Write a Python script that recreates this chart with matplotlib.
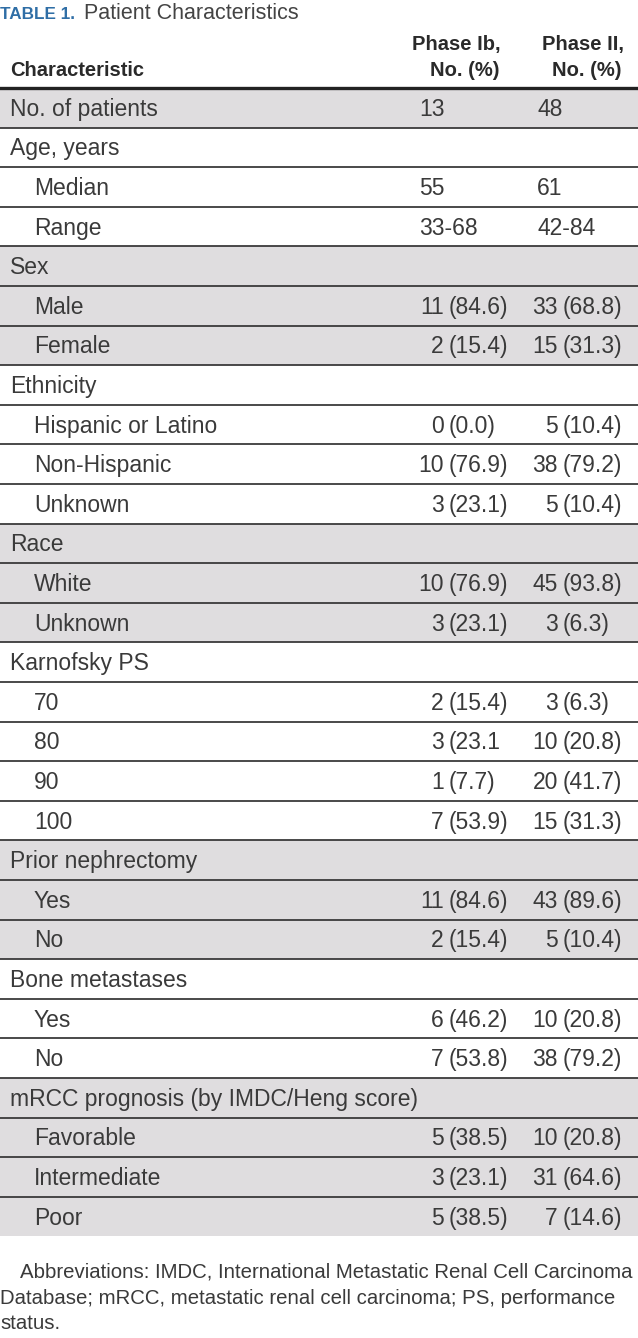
import matplotlib.pyplot as plt
from matplotlib.patches import Rectangle

# table content
row_labels = ['No. of patients', 'Age, years', 'Median', 'Range', 'Sex', 'Male', 'Female',
              'Ethnicity', 'Hispanic or Latino', 'Non-Hispanic', 'Unknown', 'Race', 'White',
              'Unknown', 'Karnofsky PS', '70', '80', '90', '100', 'Prior nephrectomy', 'Yes',
              'No', 'Bone metastases', 'Yes', 'No', 'mRCC prognosis (by IMDC/Heng score)',
              'Favorable', 'Intermediate', 'Poor']
row_indent = [0, 0, 1, 1, 0, 1, 1, 0, 1, 1, 1, 0, 1, 1, 0, 1, 1, 1, 1, 0, 1, 1, 0, 1, 1, 0, 1, 1, 1]
phase_ib = ['13', '', '55', '33-68', '', '11 (84.6)', '2 (15.4)', '', '0 (0.0)', '10 (76.9)',
            '3 (23.1)', '', '10 (76.9)', '3 (23.1)', '', '2 (15.4)', '3 (23.1', '1 (7.7)',
            '7 (53.9)', '', '11 (84.6)', '2 (15.4)', '', '6 (46.2)', '7 (53.8)', '',
            '5 (38.5)', '3 (23.1)', '5 (38.5)']
phase_ii = ['48', '', '61', '42-84', '', '33 (68.8)', '15 (31.3)', '', '5 (10.4)', '38 (79.2)',
            '5 (10.4)', '', '45 (93.8)', '3 (6.3)', '', '3 (6.3)', '10 (20.8)', '20 (41.7)',
            '15 (31.3)', '', '43 (89.6)', '5 (10.4)', '', '10 (20.8)', '38 (79.2)', '',
            '10 (20.8)', '31 (64.6)', '7 (14.6)']
footnote = ['Abbreviations: IMDC, International Metastatic Renal Cell Carcinoma',
            'Database; mRCC, metastatic renal cell carcinoma; PS, performance',
            'status.']

plt.rcParams['font.family'] = ['Liberation Sans', 'DejaVu Sans']

W, H = 638, 1338
fig = plt.figure(figsize=(W / 100, H / 100), dpi=100)
ax = fig.add_axes([0, 0, 1, 1])
ax.set_xlim(0, W)
ax.set_ylim(H, 0)
ax.axis('off')

txt = '#3a3a3a'
shade = '#dfdddf'
fs = 16.5
hfs = 14.5
top = 88
rh = 39.6

# title + header
ax.text(0, 19, 'TABLE 1.', color='#2f6ea6', fontsize=12.3, fontweight='bold')
ax.text(84, 19, 'Patient Characteristics', color='#444444', fontsize=15.5)
ax.text(10, 76, 'Characteristic', color='#2a2a2a', fontsize=hfs, fontweight='bold')
for xr, name in [(501, 'Phase Ib,'), (624, 'Phase II,')]:
    ax.text(xr, 50, name, color='#2a2a2a', fontsize=hfs, fontweight='bold', ha='right')
    ax.text(xr - 2, 76, 'No. (%)', color='#2a2a2a', fontsize=hfs, fontweight='bold', ha='right')

# rows
grp = -1
for i, lab in enumerate(row_labels):
    if not row_indent[i]:
        grp += 1
    y0 = top + i * rh
    if grp % 2 == 0:
        ax.add_patch(Rectangle((0, y0), W, rh, color=shade, lw=0, zorder=0))
    yb = y0 + rh / 2 + 8
    ax.text(10 + 24 * row_indent[i], yb, lab, color=txt, fontsize=fs)
    for val, xl, xp in [(phase_ib[i], 419, 449), (phase_ii[i], 537, 563)]:
        if ' (' in val:
            n, p = val.split(' ', 1)
            ax.text(xp - 5, yb, n, color=txt, fontsize=fs, ha='right')
            ax.text(xp, yb, p, color=txt, fontsize=fs)
        elif val:
            ax.text(xl, yb, val, color=txt, fontsize=fs)
    if i > 0:
        ax.plot([0, W], [y0, y0], color='#3a3a3a', lw=1.3, zorder=2)
ax.plot([0, W], [top, top], color='#222222', lw=2.4, zorder=3)

for k, line in enumerate(footnote):
    ax.text(20 if k == 0 else 0, 1278 + k * 25.5, line, color=txt, fontsize=14.7)

fig.savefig('out.png', dpi=100)
